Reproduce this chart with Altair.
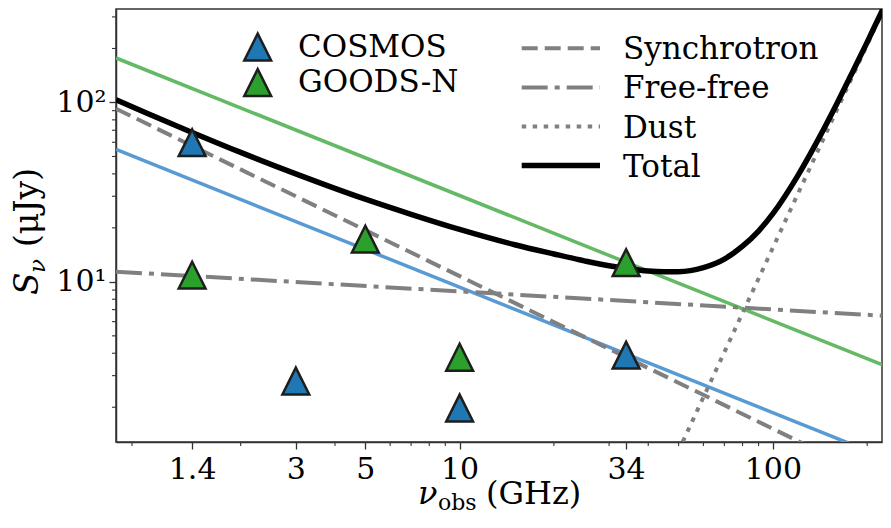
import altair as alt
import pandas as pd

# ---------------- data ----------------
cosmos_freq = [1.4, 3, 10, 34]
cosmos_flux = [59.7, 2.8, 1.98, 3.9]
goods_freq = [1.4, 5, 10, 34]
goods_flux = [10.9, 17.3, 3.8, 12.8]

cosmos_fit_freq = [0.8, 240]
cosmos_fit_flux = [54.7, 1.01]
goods_fit_freq = [0.8, 240]
goods_fit_flux = [177, 3.28]

sync_freq = [0.8, 240]
sync_flux = [92.3, 0.72]
ff_freq = [0.8, 240]
ff_flux = [11.4, 6.43]
dust_freq = [45, 240]
dust_flux = [0.77, 417]

total_freq = [0.8, 1, 1.4, 2, 3, 5, 7, 10, 15, 20, 25, 30, 34, 40, 45, 50,
              60, 70, 80, 90, 100, 120, 140, 160, 180, 200, 220, 240]
total_flux = [103.7, 87.4, 68.1, 52.7, 40.0, 28.9, 23.8, 19.6, 16.1, 14.3, 13.1,
              12.3, 11.9, 11.5, 11.4, 11.4, 12.0, 13.4, 15.8, 19.2, 24.0, 39.0,
              62.9, 98.5, 149, 217, 308, 424]

x_ticks = [1.4, 3, 5, 10, 34, 100]
x_minor = [0.9, 2, 4, 6, 7, 8, 9, 20, 30, 40, 50, 60, 70, 80, 90, 200]
y_ticks = [10, 100]
y_minor = [2, 3, 4, 5, 6, 7, 8, 9, 20, 30, 40, 50, 60, 70, 80, 90, 200, 300]

point_labels = ["COSMOS", "GOODS-N"]
curve_labels = ["Synchrotron", "Free-free", "Dust", "Total"]

# ---------------- styling ----------------
FONT = "DejaVu Serif"
W, H = 766, 433
TRI = "M0,-1L-1,1L1,1Z"
AX = "#333333"
BLUE, GREEN = "#1f77b4", "#2ca02c"
BLUE_L, GREEN_L = "#5a9ad2", "#64b964"
GRAY = "#808080"
EDGE = "#1e1e1e"
FS = 30

xs = alt.Scale(type="log", domain=[0.8, 223], nice=False)
ys = alt.Scale(type="log", domain=[1.28, 332], nice=False)

xaxis = alt.Axis(values=x_ticks, format="~g", title="", grid=False,
                 tickSize=7, tickWidth=1.3, tickColor=AX, domainColor=AX,
                 domainWidth=1.5, labelFont=FONT, labelFontSize=FS,
                 labelColor="black", labelPadding=5, labelFlush=False,
                 labelOverlap=False)
yaxis = alt.Axis(values=y_ticks, labelExpr="datum.value == 10 ? '10¹' : '10²'",
                 title="", grid=False, tickSize=7, tickWidth=1.3, tickColor=AX,
                 domainColor=AX, domainWidth=1.5, labelFont=FONT,
                 labelFontSize=FS, labelColor="black", labelPadding=3,
                 labelFlush=False, labelOverlap=False)


def X(f):
    return alt.X(f, type="quantitative", scale=xs, axis=xaxis)


def Y(f):
    return alt.Y(f, type="quantitative", scale=ys, axis=yaxis)


def line(freq, flux, color, width, dash=None, interp=None):
    kw = dict(color=color, strokeWidth=width, clip=True, strokeCap="butt")
    if dash:
        kw["strokeDash"] = dash
    if interp:
        kw["interpolate"] = interp
    df = pd.DataFrame({"f": freq, "s": flux})
    return alt.Chart(df).mark_line(**kw).encode(x=X("f"), y=Y("s"))


def points(freq, flux, color):
    df = pd.DataFrame({"f": freq, "s": flux})
    return alt.Chart(df).mark_point(shape=TRI, size=720, filled=True, fill=color,
                                    stroke=EDGE, strokeWidth=2.5, opacity=1,
                                    clip=False).encode(x=X("f"), y=Y("s"))


one = alt.Data(values=[{"k": 0}])


def label(text, x, y, size=FS, italic=False, angle=0):
    kw = dict(align="left", baseline="alphabetic", font=FONT, fontSize=size,
              color="black")
    if italic:
        kw["fontStyle"] = "italic"
    if angle:
        kw["angle"] = angle
    return alt.Chart(one).mark_text(**kw).encode(
        x=alt.value(x), y=alt.value(y), text=alt.value(text))


layers = [
    line(goods_fit_freq, goods_fit_flux, GREEN_L, 3.5),
    line(cosmos_fit_freq, cosmos_fit_flux, BLUE_L, 3.5),
    line(sync_freq, sync_flux, GRAY, 4, [16, 7]),
    line(ff_freq, ff_flux, GRAY, 4, [26, 7, 5, 7]),
    line(dust_freq, dust_flux, GRAY, 4, [4.5, 6.5]),
    line(total_freq, total_flux, "black", 5.5, None, "monotone"),
    points(cosmos_freq, cosmos_flux, BLUE),
    points(goods_freq, goods_flux, GREEN),
    # minor ticks
    alt.Chart(pd.DataFrame({"v": x_minor})).mark_rule(color=AX, strokeWidth=1.1)
    .encode(x=X("v"), y=alt.value(H), y2=alt.value(H + 4)),
    alt.Chart(pd.DataFrame({"v": y_minor})).mark_rule(color=AX, strokeWidth=1.1)
    .encode(y=Y("v"), x=alt.value(0), x2=alt.value(-4)),
]

# legend: data points
for i, (lab, col) in enumerate(zip(point_labels, [BLUE, GREEN])):
    yy = 38 + 35.5 * i
    layers.append(alt.Chart(one).mark_point(shape=TRI, size=720, filled=True,
                                            fill=col, stroke=EDGE,
                                            strokeWidth=2.5, opacity=1)
                  .encode(x=alt.value(141.7), y=alt.value(yy)))
    layers.append(label(lab, 182, 48 + 35 * i, size=31))

# legend: model curves
styles = [(GRAY, 4, [16, 7]), (GRAY, 4, [26, 7, 5, 7]), (GRAY, 4, [4.5, 6.5]),
          ("black", 5.5, None)]
for i, (lab, (col, wd, dash)) in enumerate(zip(curve_labels, styles)):
    yy = 39.3 + 39.1 * i
    kw = dict(color=col, strokeWidth=wd, strokeCap="butt")
    if dash:
        kw["strokeDash"] = dash
    layers.append(alt.Chart(one).mark_rule(**kw).encode(
        x=alt.value(405.7), x2=alt.value(484), y=alt.value(yy)))
    layers.append(label(lab, 507, yy + 11, size=31))

# axis titles
layers += [
    label("ν", 302, 495, size=32, italic=True),
    label("obs", 322, 501, size=22),
    label("(GHz)", 370, 495, size=32),
    label("S", -78, 286, size=33, italic=True, angle=270),
    label("ν", -71, 264, size=23, italic=True, angle=270),
    label("(μJy)", -78, 238, size=33, angle=270),
]

chart = alt.layer(*layers).properties(
    width=W, height=H, autosize="none",
    padding={"left": 108, "top": 1, "right": 1, "bottom": 73},
    background="white",
).configure_view(stroke=AX, strokeWidth=1.5)

chart.save("out.html", embed_options={"renderer": "svg", "actions": False})
